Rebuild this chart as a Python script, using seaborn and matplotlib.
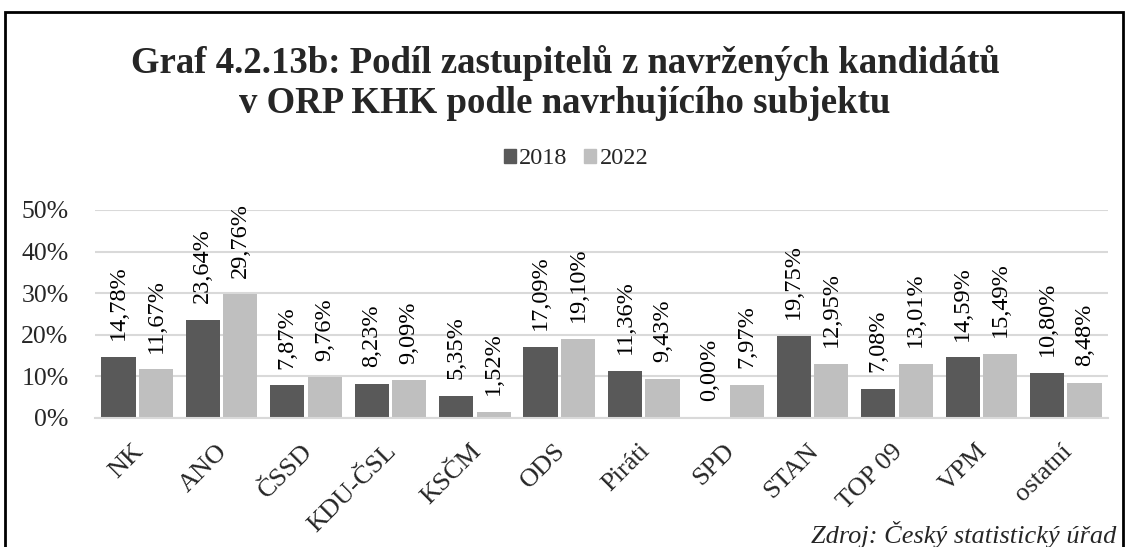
import matplotlib
matplotlib.use('Agg')
import matplotlib.pyplot as plt
import matplotlib.patches as mpatches
from matplotlib.transforms import ScaledTranslation
import pandas as pd
import seaborn as sns

subjects = ['NK', 'ANO', 'ČSSD', 'KDU-ČSL', 'KSČM', 'ODS', 'Piráti', 'SPD', 'STAN', 'TOP 09', 'VPM', 'ostatní']
years = ['2018', '2022']
share_2018 = [14.78, 23.64, 7.87, 8.23, 5.35, 17.09, 11.36, 0.00, 19.75, 7.08, 14.59, 10.80]
share_2022 = [11.67, 29.76, 9.76, 9.09, 1.52, 19.10, 9.43, 7.97, 12.95, 13.01, 15.49, 8.48]
yticks = [0, 10, 20, 30, 40, 50]

df = pd.DataFrame({
    'subjekt': subjects * 2,
    'rok': ['2018'] * len(subjects) + ['2022'] * len(subjects),
    'podil': share_2018 + share_2022,
})

sns.set_style('white')
plt.rcParams['font.family'] = ['Liberation Serif', 'DejaVu Serif']

fig = plt.figure(figsize=(11.27, 5.47), dpi=100)
ax = fig.add_axes([95 / 1127, 129 / 547, 1013 / 1127, 208 / 547])

sns.barplot(x='subjekt', y='podil', hue='rok', data=df, order=subjects, hue_order=years,
            palette=['#595959', '#bfbfbf'], width=0.89, gap=0.09, saturation=1,
            edgecolor='none', ax=ax, legend=False)

for cont in ax.containers:
    for bar in cont:
        h = bar.get_height()
        ax.text(bar.get_x() + bar.get_width() / 2, h + 4.0, f'{h:.2f}%'.replace('.', ','),
                rotation=90, ha='center', va='bottom', fontsize=17.5, color='#000000')

ax.set_ylim(0, 50)
ax.set_xlim(-0.5, len(subjects) - 0.5)
ax.set_yticks(yticks)
ax.set_yticklabels([f'{t}%' for t in yticks], fontsize=18.5)
ax.yaxis.grid(True, color='#d9d9d9', linewidth=1.5)
ax.set_axisbelow(True)
for s in ['top', 'right', 'left']:
    ax.spines[s].set_visible(False)
ax.spines['bottom'].set_color('#d9d9d9')
ax.spines['bottom'].set_linewidth(1.5)
ax.tick_params(axis='y', length=0, pad=19)
ax.tick_params(axis='x', length=0, pad=21.5)
ax.set_xticks(range(len(subjects)))
ax.set_xticklabels(subjects, rotation=45, ha='right', va='center', rotation_mode='anchor', fontsize=19)
for lab in ax.get_xticklabels():
    lab.set_transform(lab.get_transform() + ScaledTranslation(2 / 72, 0, fig.dpi_scale_trans))
ax.set_xlabel('')
ax.set_ylabel('')

handles = [mpatches.Patch(color='#595959', label='2018'), mpatches.Patch(color='#bfbfbf', label='2022')]
fig.legend(handles=handles, loc='center', bbox_to_anchor=(576 / 1127, 1 - 159 / 547), ncol=2,
           frameon=False, fontsize=17.5, handlelength=0.5, handleheight=0.5, handletextpad=0.12,
           columnspacing=0.7)

fig.text(565 / 1127, 1 - 83 / 547, 'Graf 4.2.13b: Podíl zastupitelů z navržených kandidátů\nv ORP KHK podle navrhujícího subjektu',
         ha='center', va='center', fontsize=26.5, fontweight='bold', linespacing=1.15)
fig.text(1116 / 1127, 1 - 534 / 547, 'Zdroj: Český statistický úřad', ha='right', va='center',
         fontsize=19, style='italic')

fig.patches.append(mpatches.Rectangle((5 / 1127, -0.05), 1118 / 1127, 1.05 - 12 / 547,
                                      transform=fig.transFigure, fill=False, edgecolor='black',
                                      linewidth=2))

fig.savefig('out.png', dpi=100)
